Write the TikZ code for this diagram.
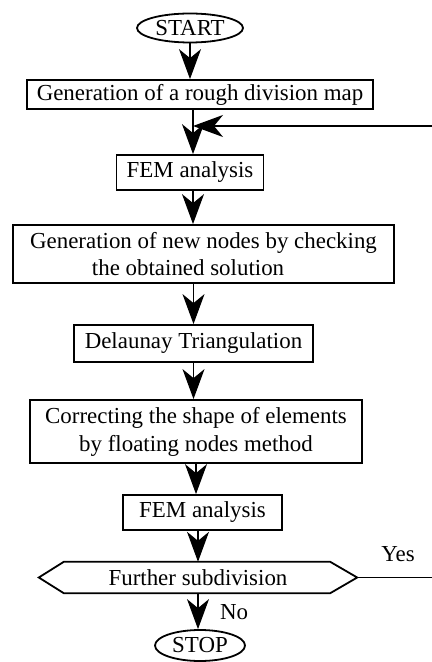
\documentclass[tikz,border=0pt]{standalone}
\usepackage{fontspec}
\setmainfont{Liberation Serif}
\usetikzlibrary{shapes.geometric,arrows.meta}
\begin{document}
\begin{tikzpicture}[x=1bp,y=-1bp,
		txt/.style={font=\fontsize{23}{28}\selectfont},
		box/.style={txt,draw,line width=1.8bp,inner sep=0pt},
		term/.style={box,ellipse},
		flow/.style={line width=1.2bp,-{Stealth[length=30bp,width=22bp,inset=9bp]}}]
		\useasboundingbox (0,0) rectangle (431,662);
		\node[term,minimum width=106bp,minimum height=29bp] (start) at (190,28) {START};
		\node[box,minimum width=346bp,minimum height=29bp] (gen) at (200,94.5) {Generation of a rough division map};
		\node[box,minimum width=147bp,minimum height=35bp] (fem) at (190,172.5) {FEM analysis};
		\node[box,align=left,minimum width=381bp,minimum height=58bp] (new) at (203.5,254) {Generation of new nodes by checking\\\hspace*{2.7em}the obtained solution};
		\node[box,minimum width=239bp,minimum height=37bp] (del) at (193.5,343.5) {Delaunay Triangulation};
		\node[box,align=center,minimum width=332bp,minimum height=63bp] (cor) at (196,431.5) {Correcting the shape of elements\\by floating nodes method};
		\node[box,minimum width=159bp,minimum height=35bp] (fem2) at (202.5,512.5) {FEM analysis};
		\node[txt,inner sep=0pt,minimum width=318bp,minimum height=31bp] (dec) at (198,577.5) {Further subdivision};
		\draw[line width=1.8bp] (dec.west) -- ([xshift=25bp]dec.north west) -- ([xshift=-27bp]dec.north east) -- (dec.east)
			-- ([xshift=-27bp]dec.south east) -- ([xshift=25bp]dec.south west) -- cycle;
		\node[term,minimum width=90bp,minimum height=31bp] (stop) at (200,645.5) {STOP};
		\node[txt] (yes) at (398,554) {Yes};
		\node[txt] (no) at (234,612) {No};
		\coordinate (mrg) at (193,126);
		\coordinate (rt) at (445,0);
		\draw[flow] (start) -- (start |- gen.north);
		\draw[flow] (gen.south -| mrg) -- (fem.north -| mrg);
		\draw[flow] (fem.south -| mrg) -- (new.north -| mrg);
		\draw[flow] (new.south -| del) -- (del.north);
		\draw[flow] (del) -- (del |- cor.north);
		\draw[flow] (cor) -- (cor |- fem2.north);
		\draw[flow] (fem2.south -| dec) -- (dec.north);
		\draw[flow] (dec) -- (dec |- stop.north);
		\draw[flow] (dec.east) -- (dec.east -| rt) |- (mrg);
	\end{tikzpicture}
\end{document}
